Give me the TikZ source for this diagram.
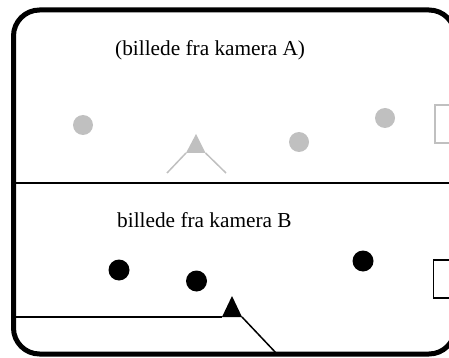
\documentclass[tikz,border=0pt]{standalone}
\usepackage{fontspec}
\setmainfont{Liberation Serif}
\definecolor{lg}{RGB}{192,192,192}
\begin{document}
\begin{tikzpicture}[x=1pt,y=-1pt,
  gdot/.style={circle,fill=lg,draw=none,minimum size=20pt,inner sep=0pt},
  bdot/.style={circle,fill=black,draw=none,minimum size=21pt,inner sep=0pt},
  lbl/.style={font=\fontsize{21.3}{24}\selectfont,inner sep=0pt,anchor=west}]
\useasboundingbox (0,0) rectangle (449,358);
\clip (0,0) rectangle (449,358);
% frame
\draw[line width=5pt,rounded corners=26pt] (13.5,10) rectangle (455,354);
\coordinate (ml) at (13.5,183);
\coordinate (mr) at (455,183);
\draw[line width=2.4pt] (ml) -- (mr);
% top panel
\node[lbl] (ta) at (115,50) {(billede fra kamera A)};
\node[gdot] (g1) at (83,125) {};
\node[gdot] (g2) at (299,142) {};
\node[gdot] (g3) at (385,118) {};
\fill[lg] (186,153) coordinate (tl) -- (196,134) coordinate (tt) -- (205.5,153) coordinate (tr) -- cycle;
\coordinate (vl) at (167,173);
\coordinate (vr) at (226,173);
\draw[lg,line width=1.5pt] (vl) -- (tl);
\draw[lg,line width=1.5pt] (tr) -- (vr);
\draw[lg,line width=1.5pt] (435,105) rectangle (470,143);
% bottom panel
\node[lbl] (tb) at (117,220) {billede fra kamera B};
\node[bdot] (b1) at (119,270) {};
\node[bdot] (b2) at (196.5,281) {};
\node[bdot] (b3) at (363,261) {};
\fill[black] (222,317) coordinate (bl) -- (232,296) coordinate (bt) -- (242,317) coordinate (br) -- cycle;
\coordinate (hl) at (13.5,317);
\coordinate (dr) at (277,354);
\draw[line width=1.5pt] (hl) -- (bl);
\draw[line width=1.5pt] (br) -- (dr);
\draw[line width=1.5pt] (433.5,260) rectangle (470,298);
\end{tikzpicture}
\end{document}
